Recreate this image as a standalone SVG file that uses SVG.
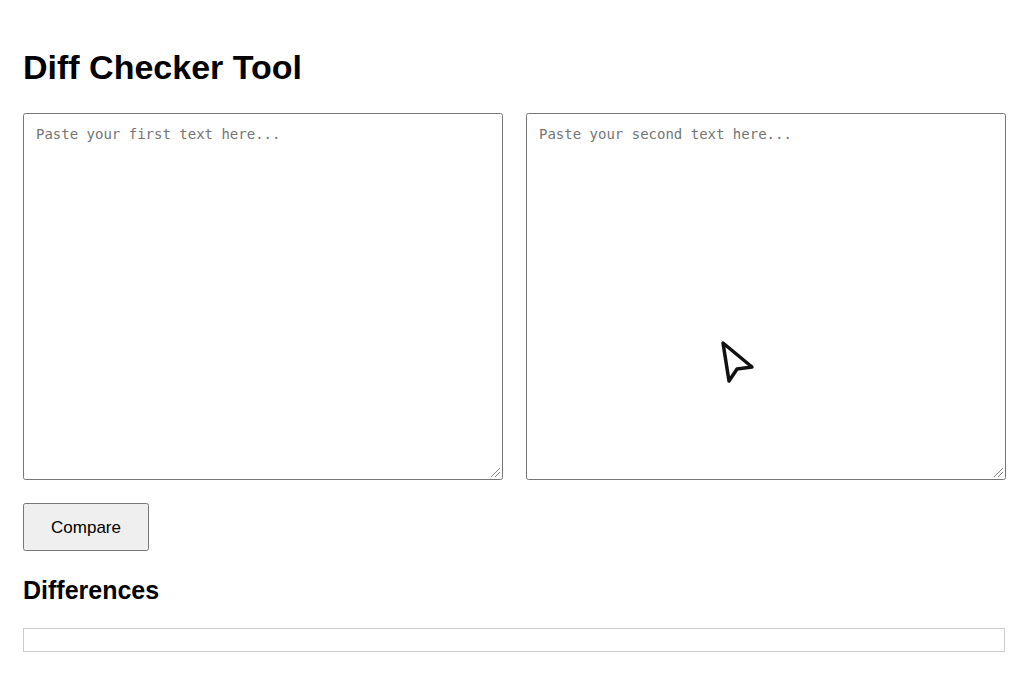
<svg xmlns="http://www.w3.org/2000/svg" width="1028" height="682" viewBox="0 0 1028 682">
<style>
.ta{fill:#fff;stroke:#767676;stroke-width:1}
.ph{font-family:"DejaVu Sans Mono","Liberation Mono",monospace;font-size:14px;fill:#757575}
.h{font-family:"Liberation Sans",Arial,sans-serif;font-weight:bold;fill:#000}
.grip{stroke:#888;stroke-width:1}
</style>
<rect width="1028" height="682" fill="#fff"/>
<text class="h" x="23" y="79" font-size="34">Diff Checker Tool</text>
<g id="left">
<rect class="ta" x="23.5" y="113.5" width="479" height="366" rx="2"/>
<text class="ph" x="36" y="139">Paste your first text here...</text>
<path class="grip" d="M491 477 L500 468 M495 477 L500 472"/>
</g>
<g id="right">
<rect class="ta" x="526.5" y="113.5" width="479" height="366" rx="2"/>
<text class="ph" x="539" y="139">Paste your second text here...</text>
<path class="grip" d="M994 477 L1003 468 M998 477 L1003 472"/>
</g>
<g id="cursor">
<path d="M723 343 L752 367 L737 369 L729 381 Z" fill="#fff" stroke="#111" stroke-width="3.5" stroke-linejoin="round"/>
</g>
<g id="compare">
<rect x="23.5" y="503.5" width="125" height="47" rx="2" fill="#efefef" stroke="#767676"/>
<text x="86" y="533" font-family="Liberation Sans,Arial,sans-serif" font-size="17" text-anchor="middle" fill="#000">Compare</text>
</g>
<text class="h" x="23" y="599" font-size="25">Differences</text>
<g id="result">
<rect x="23.5" y="628.5" width="981" height="23" fill="#fff" stroke="#ccc"/>
</g>
<g id="connectors"/>
</svg>
